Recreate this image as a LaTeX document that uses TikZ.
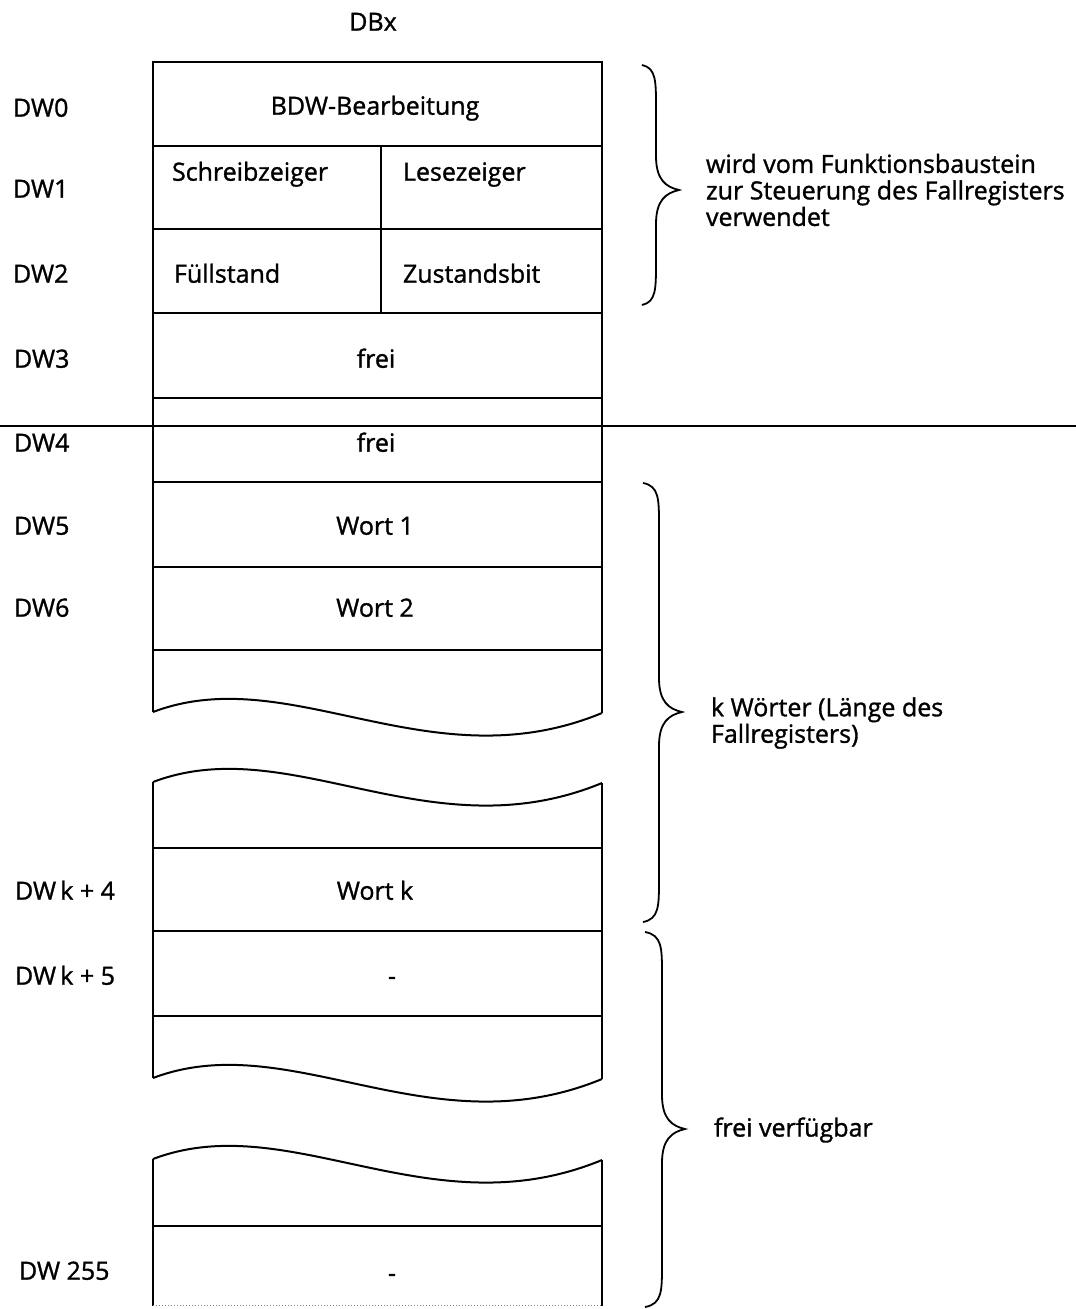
\documentclass[tikz,border=0pt]{standalone}
\usepackage{fontspec}
\setmainfont{Open Sans}[FakeBold=1.2]
\newcommand\labfont{\fontsize{25}{26.5}\selectfont}
\newcommand\wavepath[1]{(153,#1) .. controls (290,{#1-52}) and (430,{#1+72}) .. (602,{#1+1})}
\newcommand\bracepath[6]{(#1,#4) .. controls (#2,{#4+3}) and (#2,{#4+16}) .. (#2,{#4+42}) -- (#2,{#5-34}) .. controls (#2,{#5-10}) and ({#2+10},{#5-3}) .. (#3,#5) .. controls ({#2+10},{#5+3}) and (#2,{#5+10}) .. (#2,{#5+34}) -- (#2,{#6-42}) .. controls (#2,{#6-16}) and (#2,{#6-3}) .. (#1,#6)}
\begin{document}
\begin{tikzpicture}[x=1pt,y=-1pt,line width=2pt,
  lbl/.style={anchor=mid west,inner sep=0pt,font=\labfont},
  cell/.style={anchor=mid,inner sep=0pt,font=\labfont},
  cellw/.style={anchor=mid west,inner sep=0pt,font=\labfont},
  note/.style={anchor=west,align=left,inner sep=0pt,font=\labfont}]
\useasboundingbox (0,0) rectangle (1076,1309);
\fill[white] (0,0) rectangle (1076,1309);

% title
\node[cell] (dbx) at (373,28) {DBx};

% box upper segment
\draw (153,712) -- (153,62) -- (602,62) -- (602,713);
\draw \wavepath{712};
\foreach \yy in {146,229,313,398,482,567,650} \draw (153,\yy) -- (602,\yy);
\draw (381,146) -- (381,313);
\draw[line width=1.6pt] (0,426) -- (1076,426);

% middle segment
\draw \wavepath{782};
\draw (153,782) -- (153,1078);
\draw (602,783) -- (602,1079);
\draw \wavepath{1078};
\foreach \yy in {848,931,1016} \draw (153,\yy) -- (602,\yy);

% lower segment
\draw \wavepath{1159};
\draw (153,1159) -- (153,1306);
\draw (602,1160) -- (602,1306);
\draw (153,1226) -- (602,1226);
\draw[line width=1pt,gray,dotted] (153,1305) -- (602,1305);

% left labels
\node[lbl] (dw0) at (12,114) {DW0};
\node[lbl] (dw1) at (12,195) {DW1};
\node[lbl] (dw2) at (12,280) {DW2};
\node[lbl] (dw3) at (13,365) {DW3};
\node[lbl] (dw4) at (13,449) {DW4};
\node[lbl] (dw5) at (13,532) {DW5};
\node[lbl] (dw6) at (13,614) {DW6};
\node[lbl] (dwk4) at (14,897) {DW\,k + 4};
\node[lbl] (dwk5) at (14,982) {DW\,k + 5};
\node[lbl] (dw255) at (18,1277) {DW 255};

% cell texts
\node[cell] (bdw) at (375,112) {BDW-Bearbeitung};
\node[cellw] (sz) at (171,178) {Schreibzeiger};
\node[cellw] (lz) at (402,178) {Lesezeiger};
\node[cellw] (fs) at (173,280) {Füllstand};
\node[cellw] (zb) at (402,280) {Zustandsbit};
\node[cell] (frei3) at (376,365) {frei};
\node[cell] (frei4) at (376,449) {frei};
\node[cell] (w1) at (375,532) {Wort 1};
\node[cell] (w2) at (375,614) {Wort 2};
\node[cell] (wk) at (375,897) {Wort k};
\node[cell] (d1) at (392,982) {-};
\node[cell] (d2) at (392,1279) {-};

% braces
\draw[line width=1.8pt] \bracepath{642}{656}{679}{65}{190}{305};
\draw[line width=1.8pt] \bracepath{643}{659}{682}{483}{712}{922};
\draw[line width=1.8pt] \bracepath{645}{662}{685}{932}{1129}{1307};

% notes
\node[note] (n1) at (705,190) {wird vom Funktionsbaustein\\zur Steuerung des Fallregisters\\verwendet};
\node[note] (n2) at (710,723) {k Wörter (Länge des\\Fallregisters)};
\node[note] (n3) at (713,1130) {frei verfügbar};
\end{tikzpicture}
\end{document}
